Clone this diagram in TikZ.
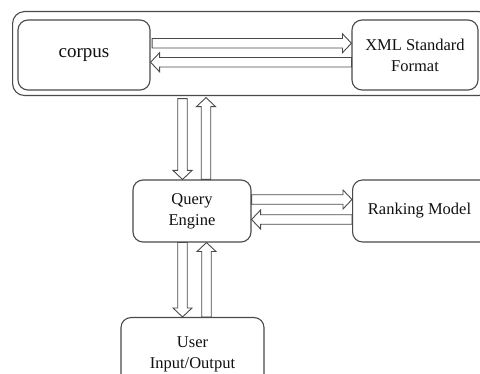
\documentclass[tikz,border=0pt]{standalone}
\usepackage{fontspec}
\setmainfont{Liberation Serif}
\usetikzlibrary{calc}
\definecolor{linegray}{HTML}{4A4A4A}
\definecolor{textgray}{HTML}{111111}
\tikzset{
  box/.style={draw=linegray, line width=1.1pt, rounded corners=10pt, inner sep=0pt,
    align=center, text=textgray, font=\fontsize{16.5}{21}\selectfont},
  flow/.style={draw=linegray, line width=0.9pt, line join=miter},
}
% hollow block arrow from coordinate #1 (tail) to coordinate #2 (tip)
\newcommand\blockarrow[2]{%
  \coordinate (hb) at ($(#2)!9pt!(#1)$);
  \draw[flow] ($(#1)!4.75pt!90:(#2)$) -- ($(hb)!4.75pt!90:(#2)$)
    -- ($(hb)!9.5pt!90:(#2)$) -- (#2) -- ($(hb)!9.5pt!-90:(#2)$)
    -- ($(hb)!4.75pt!-90:(#2)$) -- ($(#1)!4.75pt!-90:(#2)$) -- cycle;
}
\begin{document}
\begin{tikzpicture}[x=1pt,y=-1pt]
  \clip (0,0) rectangle (480,374);
  \fill[white] (0,0) rectangle (480,374);

  % storage layer
  \node[box, rounded corners=12pt, minimum width=478pt, minimum height=84pt,
        anchor=north west] (outer) at (12,11) {};
  \node[box, minimum width=132pt, minimum height=70pt, font=\fontsize{19}{23}\selectfont]
        (corpus) at (84,55) {corpus};
  \node[box, minimum width=126pt, minimum height=70pt] (xml) at (415,55)
        {XML Standard\\Format};

  % processing and interface
  \node[box, minimum width=118pt, minimum height=62pt] (query) at (192,211)
        {Query\\Engine};
  \node[box, minimum width=138pt, minimum height=62pt, anchor=west] (rank) at (352,211)
        {\hspace*{-4pt}Ranking Model};
  \node[box, minimum width=143pt, minimum height=72pt, anchor=north] (user) at (192.5,317)
        {\raisebox{17pt}{\begin{tabular}{@{}c@{}}User\\Input/Output\end{tabular}}};

  % corpus <-> XML
  \coordinate (a1) at ($(corpus.east)+(1.5,-11.75)$);
  \coordinate (a1e) at (a1 -| xml.west);
  \coordinate (a2) at ($(xml.west)+(0,7.25)$);
  \coordinate (a2e) at (a2 -| corpus.east);
  \blockarrow{a1}{a1e}
  \blockarrow{a2}{a2e}

  % storage <-> query engine
  \coordinate (b1) at ($(outer.south -| query.north)+(-9.5,2.5)$);
  \coordinate (b1e) at (b1 |- query.north);
  \coordinate (b2) at ($(query.north)+(14,0)$);
  \coordinate (b2e) at ($(b2 |- outer.south)+(0,1.5)$);
  \blockarrow{b1}{b1e}
  \blockarrow{b2}{b2e}

  % query engine <-> ranking model
  \coordinate (c1) at ($(query.east)+(0,-11.5)$);
  \coordinate (c1e) at (c1 -| rank.west);
  \coordinate (c2) at ($(rank.west)+(0,8.5)$);
  \coordinate (c2e) at (c2 -| query.east);
  \blockarrow{c1}{c1e}
  \blockarrow{c2}{c2e}

  % query engine <-> user
  \coordinate (d1) at ($(query.south)+(-9.5,0)$);
  \coordinate (d1e) at (d1 |- user.north);
  \coordinate (d2) at ($(user.north)+(14,0)$);
  \coordinate (d2e) at (d2 |- query.south);
  \blockarrow{d1}{d1e}
  \blockarrow{d2}{d2e}
\end{tikzpicture}
\end{document}
